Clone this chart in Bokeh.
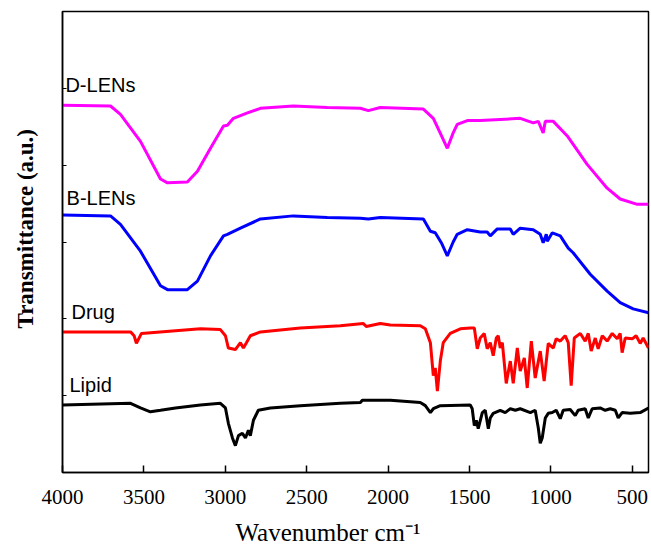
from bokeh.plotting import figure
from bokeh.models import Range1d, Label, FixedTicker, Title, LinearAxis
from bokeh.embed import file_html
from bokeh.resources import INLINE

# ---- data (wavenumber cm^-1, offset transmittance a.u.) ----
dlens_wn = [4000, 3705, 3644, 3521, 3398, 3355, 3233, 3171, 3091, 3011, 2987, 2950, 2864, 2784,
            2582, 2373, 2170, 2121, 2048, 1783, 1722, 1680, 1636, 1600, 1575, 1513, 1434, 1188,
            1108, 1077, 1047, 1034, 985, 899, 869, 777, 654, 574, 469, 400]
dlens_t = [4.78, 4.77, 4.66, 4.31, 3.82, 3.77, 3.78, 3.92, 4.22, 4.51, 4.52, 4.61, 4.68, 4.74,
           4.77, 4.75, 4.74, 4.71, 4.75, 4.73, 4.61, 4.42, 4.22, 4.42, 4.53, 4.58, 4.58, 4.61,
           4.55, 4.57, 4.42, 4.57, 4.57, 4.38, 4.29, 4.01, 3.70, 3.56, 3.49, 3.49]

blens_wn = [4000, 3705, 3644, 3521, 3398, 3355, 3233, 3171, 3091, 3011, 2987, 2907, 2784, 2582,
            2373, 2170, 2121, 2048, 1783, 1740, 1710, 1670, 1636, 1600, 1575, 1513, 1434, 1391,
            1372, 1329, 1249, 1231, 1188, 1108, 1065, 1047, 1028, 1022, 991, 942, 893, 863,
            758, 654, 574, 494, 400]
blens_t = [3.35, 3.34, 3.23, 2.88, 2.43, 2.38, 2.38, 2.49, 2.82, 3.08, 3.10, 3.18, 3.30, 3.34,
           3.32, 3.31, 3.30, 3.32, 3.30, 3.14, 3.12, 2.98, 2.82, 3.00, 3.10, 3.16, 3.13, 3.13,
           3.08, 3.17, 3.17, 3.10, 3.18, 3.16, 3.10, 2.99, 3.10, 3.01, 3.12, 3.08, 2.92, 2.86,
           2.58, 2.36, 2.21, 2.13, 2.08]

drug_wn = [4000, 3582, 3560, 3546, 3515, 3153, 3030, 2999, 2981, 2938, 2907, 2889, 2870, 2846,
           2784, 2539, 2293, 2152, 2134, 2048, 1986, 1802, 1771, 1740, 1722, 1710, 1697, 1679,
           1661, 1618, 1556, 1495, 1470, 1452, 1434, 1409, 1391, 1372, 1354, 1335, 1323, 1311,
           1298, 1274, 1249, 1231, 1206, 1188, 1163, 1145, 1120, 1096, 1065, 1041, 1016, 985,
           967, 942, 912, 893, 875, 856, 819, 789, 770, 752, 727, 709, 684, 654, 623, 592,
           574, 562, 543, 500, 476, 451, 433, 400]
drug_t = [1.83, 1.83, 1.78, 1.68, 1.81, 1.87, 1.86, 1.78, 1.62, 1.60, 1.69, 1.62, 1.69, 1.78,
          1.83, 1.88, 1.91, 1.94, 1.90, 1.94, 1.92, 1.91, 1.87, 1.69, 1.26, 1.36, 1.06, 1.45,
          1.69, 1.81, 1.87, 1.88, 1.88, 1.61, 1.75, 1.81, 1.61, 1.69, 1.52, 1.75, 1.78, 1.62,
          1.69, 1.16, 1.45, 1.16, 1.62, 1.32, 1.49, 1.10, 1.71, 1.23, 1.58, 1.19, 1.68, 1.62,
          1.74, 1.71, 1.78, 1.69, 1.13, 1.75, 1.81, 1.71, 1.81, 1.58, 1.75, 1.61, 1.78, 1.71,
          1.81, 1.74, 1.81, 1.56, 1.75, 1.74, 1.78, 1.68, 1.75, 1.62]

lipid_wn = [4000, 3582, 3521, 3460, 3398, 3306, 3153, 3030, 2999, 2981, 2956, 2938, 2919, 2895,
            2876, 2858, 2846, 2827, 2797, 2723, 2539, 2293, 2170, 2158, 2048, 1986, 1802, 1771,
            1740, 1722, 1679, 1495, 1483, 1470, 1458, 1446, 1421, 1403, 1384, 1372, 1354, 1311,
            1280, 1249, 1218, 1188, 1126, 1096, 1077, 1065, 1053, 1034, 1016, 991, 967, 942,
            924, 881, 850, 832, 789, 770, 746, 697, 666, 635, 604, 586, 562, 512, 451, 400]
lipid_t = [0.88, 0.90, 0.84, 0.79, 0.81, 0.84, 0.88, 0.90, 0.84, 0.64, 0.45, 0.35, 0.48, 0.51,
           0.45, 0.55, 0.48, 0.68, 0.81, 0.84, 0.87, 0.90, 0.91, 0.94, 0.94, 0.94, 0.91, 0.87,
           0.78, 0.83, 0.87, 0.88, 0.83, 0.61, 0.68, 0.57, 0.78, 0.81, 0.57, 0.71, 0.77, 0.81,
           0.78, 0.83, 0.81, 0.83, 0.78, 0.81, 0.58, 0.38, 0.45, 0.71, 0.77, 0.78, 0.81, 0.70,
           0.81, 0.82, 0.74, 0.81, 0.83, 0.71, 0.83, 0.84, 0.81, 0.83, 0.81, 0.71, 0.78, 0.77,
           0.78, 0.84]

series_names = ["D-LENs", "B-LENs", "Drug", "Lipid"]
label_x = [3982, 3975, 3945, 3957]
label_y = [5.04, 3.57, 2.09, 1.14]
x_ticks = [4000, 3500, 3000, 2500, 2000, 1500, 1000, 500]
y_ticks = [1, 2, 3, 4, 5]

colors = ["#FF00FF", "#0000FF", "#FF0000", "#000000"]
data = [(dlens_wn, dlens_t), (blens_wn, blens_t), (drug_wn, drug_t), (lipid_wn, lipid_t)]

p = figure(width=651, height=546, output_backend="svg", toolbar_location=None,
           x_range=Range1d(4000, 400), y_range=Range1d(0, 6),
           min_border_left=62, min_border_right=3, min_border_top=11, min_border_bottom=74)
p.background_fill_color = "white"
p.border_fill_color = "white"
p.outline_line_color = "black"
p.outline_line_width = 1.5
p.grid.visible = False

for (wn, t), c in zip(data, colors):
    p.line(wn, t, line_color=c, line_width=3)

serif = "'Liberation Serif', serif"
sans = "'Liberation Sans', sans-serif"

xa = p.xaxis[0]
xa.ticker = FixedTicker(ticks=x_ticks)
xa.minor_tick_line_color = None
xa.major_tick_in = 7
xa.major_tick_out = 0
xa.major_tick_line_width = 1.5
xa.axis_line_width = 1.5
xa.major_label_text_font = serif
xa.major_label_text_font_size = "21px"
xa.major_label_text_color = "black"
xa.major_label_standoff = 17

# invisible spacer between tick labels and the x title
spacer = LinearAxis(ticker=FixedTicker(ticks=x_ticks), axis_line_color=None,
                    major_tick_line_color=None, minor_tick_line_color=None,
                    major_tick_in=0, major_tick_out=10, minor_tick_out=0,
                    major_label_text_font_size="0px", major_label_text_color=None)
p.add_layout(spacer, "below")

ya = p.yaxis[0]
ya.ticker = FixedTicker(ticks=y_ticks, minor_ticks=y_ticks)
ya.major_tick_in = 0
ya.major_tick_out = 25
ya.major_tick_line_color = None
ya.minor_tick_in = 4
ya.minor_tick_out = 0
ya.minor_tick_line_color = "black"
ya.minor_tick_line_width = 1
ya.axis_line_width = 1.5
ya.major_label_text_font_size = "0px"
ya.major_label_text_color = None

for name, lx, ly in zip(series_names, label_x, label_y):
    p.add_layout(Label(x=lx, y=ly, text=name, text_font=sans, text_font_size="20px",
                       text_color="black", text_align="left", text_baseline="alphabetic"))

xt = Title(text="Wavenumber cm\u207b\u00b9", align="left", offset=173, vertical_align="bottom",
           text_font=serif, text_font_size="25px", text_font_style="normal",
           text_color="black", standoff=0)
p.add_layout(xt, "below")

yt = Title(text="Transmittance  (a.u.)", align="left", offset=144, vertical_align="bottom",
           text_font=serif, text_font_size="23px", text_font_style="bold",
           text_color="black", standoff=0)
p.add_layout(yt, "left")

open("out.html", "w").write(file_html(p, INLINE))
